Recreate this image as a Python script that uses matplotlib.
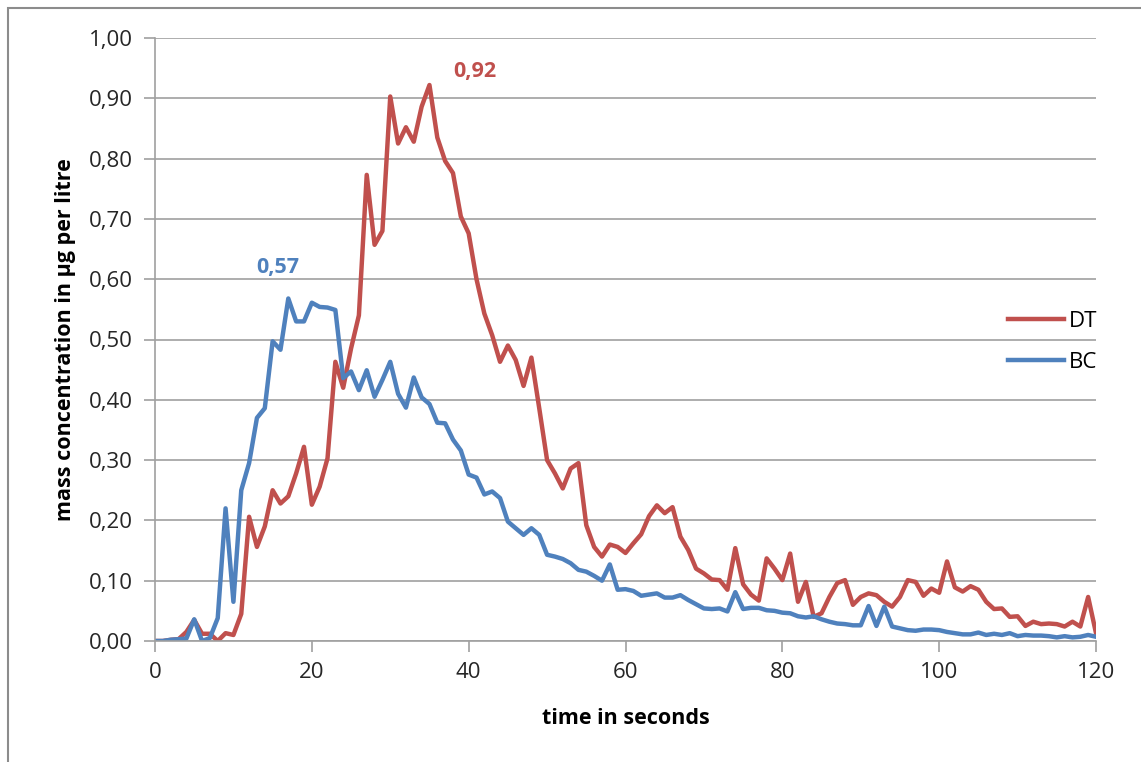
import numpy as np
import matplotlib.pyplot as plt
from matplotlib.patches import Rectangle
from matplotlib.ticker import FuncFormatter

plt.rcParams['font.family'] = ['Open Sans', 'DejaVu Sans']

# time in seconds, one value per second
seconds = np.arange(0, 121)

dt_values = [
    0.000, 0.000, 0.002, 0.003, 0.015, 0.035, 0.012, 0.012, 0.000, 0.013,
    0.010, 0.045, 0.206, 0.156, 0.190, 0.250, 0.228, 0.240, 0.278, 0.322,
    0.226, 0.256, 0.303, 0.463, 0.420, 0.485, 0.540, 0.773, 0.657, 0.680,
    0.903, 0.825, 0.852, 0.828, 0.886, 0.922, 0.835, 0.796, 0.776, 0.704,
    0.676, 0.600, 0.543, 0.507, 0.463, 0.490, 0.466, 0.423, 0.470, 0.386,
    0.300, 0.278, 0.253, 0.286, 0.295, 0.192, 0.156, 0.140, 0.160, 0.156,
    0.146, 0.162, 0.177, 0.207, 0.225, 0.212, 0.222, 0.173, 0.151, 0.120,
    0.112, 0.102, 0.101, 0.085, 0.154, 0.094, 0.077, 0.067, 0.137, 0.120,
    0.101, 0.145, 0.065, 0.098, 0.040, 0.046, 0.073, 0.096, 0.101, 0.060,
    0.073, 0.079, 0.076, 0.065, 0.057, 0.073, 0.101, 0.098, 0.075, 0.087,
    0.080, 0.132, 0.089, 0.082, 0.091, 0.085, 0.065, 0.053, 0.054, 0.040,
    0.041, 0.025, 0.032, 0.028, 0.029, 0.028, 0.024, 0.032, 0.024, 0.073,
    0.013,
]

bc_values = [
    0.000, 0.000, 0.002, 0.003, 0.004, 0.036, 0.000, 0.005, 0.038, 0.220,
    0.065, 0.250, 0.295, 0.370, 0.386, 0.497, 0.483, 0.568, 0.530, 0.530,
    0.561, 0.554, 0.553, 0.549, 0.436, 0.447, 0.416, 0.449, 0.405, 0.433,
    0.463, 0.410, 0.387, 0.437, 0.404, 0.393, 0.362, 0.361, 0.334, 0.316,
    0.276, 0.271, 0.243, 0.248, 0.237, 0.198, 0.187, 0.176, 0.187, 0.176,
    0.143, 0.140, 0.136, 0.129, 0.118, 0.115, 0.108, 0.100, 0.127, 0.085,
    0.086, 0.083, 0.075, 0.077, 0.079, 0.072, 0.072, 0.076, 0.068, 0.061,
    0.054, 0.053, 0.054, 0.049, 0.081, 0.053, 0.055, 0.055, 0.051, 0.050,
    0.047, 0.046, 0.041, 0.039, 0.041, 0.036, 0.032, 0.029, 0.028, 0.026,
    0.026, 0.058, 0.025, 0.057, 0.024, 0.021, 0.018, 0.017, 0.019, 0.019,
    0.018, 0.015, 0.013, 0.011, 0.011, 0.014, 0.010, 0.012, 0.010, 0.013,
    0.008, 0.010, 0.009, 0.009, 0.008, 0.006, 0.008, 0.006, 0.007, 0.010,
    0.007,
]

series_names = ['DT', 'BC']
peak_labels = ['0,92', '0,57']

red = '#C0504D'
blue = '#4F81BD'
grey = '#A0A0A0'

fig = plt.figure(figsize=(11.41, 7.62), dpi=100)
ax = fig.add_axes([155 / 1141, 1 - 641 / 762, (1096 - 155) / 1141, (641 - 38) / 762])

# outer chart frame
fig.patches.append(Rectangle((8 / 1141, -0.1), 1.2, 1 - 8 / 762 + 0.1, transform=fig.transFigure,
                             fill=False, edgecolor='#8C8C8C', linewidth=1.5))

ax.plot(seconds, dt_values, color=red, linewidth=3.2, label=series_names[0], solid_joinstyle='round')
ax.plot(seconds, bc_values, color=blue, linewidth=3.2, label=series_names[1], solid_joinstyle='round')

ax.set_xlim(0, 120)
ax.set_ylim(0, 1.0)
ax.set_xticks(np.arange(0, 121, 20))
ax.set_yticks(np.arange(0, 1.01, 0.1))
ax.yaxis.set_major_formatter(FuncFormatter(lambda v, p: f'{v:.2f}'.replace('.', ',')))

ax.grid(axis='y', color=grey, linewidth=1.2)
ax.set_axisbelow(True)
for s in ['top', 'right']:
    ax.spines[s].set_visible(False)
for s in ['left', 'bottom']:
    ax.spines[s].set_color(grey)
    ax.spines[s].set_linewidth(1.2)
ax.tick_params(axis='both', colors=grey, length=8, width=1.2, labelcolor='#262626', labelsize=16)
ax.tick_params(axis='y', pad=8)
ax.tick_params(axis='x', pad=7)

ax.set_xlabel('time in seconds', fontsize=15.5, fontweight='bold')
ax.set_ylabel('mass concentration in µg per litre', fontsize=15.5, fontweight='bold')
ax.xaxis.set_label_coords(0.5, -0.111)
ax.yaxis.set_label_coords(-0.084, 0.5)

ax.text(40.8, 0.944, peak_labels[0], color=red, fontsize=15.5, fontweight='bold', ha='center', va='center')
ax.text(15.7, 0.619, peak_labels[1], color=blue, fontsize=15.5, fontweight='bold', ha='center', va='center')

fig.legend(loc='center left', bbox_to_anchor=(988 / 1141, 1 - 342 / 762), frameon=False,
           fontsize=16, handlelength=2.5, labelspacing=0.9, handletextpad=0.25)

fig.savefig('out.png', dpi=100)
